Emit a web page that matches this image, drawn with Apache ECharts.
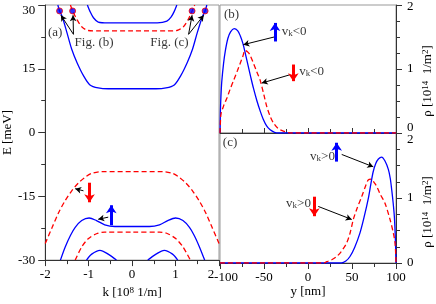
<!DOCTYPE html>
<html><head><meta charset="utf-8">
<script src="https://cdn.jsdelivr.net/npm/echarts@6/dist/echarts.min.js"></script>
<style>html,body{margin:0;padding:0;background:#fff}#c{width:436px;height:304px}</style>
</head><body><div id="c"></div>
<script>
const FONT = "'Liberation Serif','Times New Roman',serif";
const BLUE = '#0000ff', RED = '#ff0000';

// ---- Panel (a): E(k) bands ----
const elecOuterBlue = [[-1.71,30],[-1.67,28.6],[-1.61,27.3],[-1.5,23.5],[-1.39,19.6],[-1.27,16.5],[-1.12,13.4],[-0.97,11.2],[-0.78,10.5],[-0.55,10.3],[0,10.3],[0.55,10.3],[0.78,10.5],[0.97,11.2],[1.12,13.4],[1.27,16.5],[1.39,19.6],[1.5,23.5],[1.62,27.3],[1.68,28.6],[1.72,30]];
const elecRedDash = [[-1.42,30],[-1.37,28.6],[-1.27,26.6],[-1.16,24.9],[-1.01,24.0],[-0.78,23.9],[0,23.9],[0.8,23.9],[1.03,24.0],[1.18,24.9],[1.29,26.6],[1.38,28.6],[1.44,30]];
const elecInnerBlue = [[-1.03,30],[-0.97,28.5],[-0.89,27.0],[-0.78,26.0],[-0.55,25.8],[0,25.8],[0.58,25.8],[0.8,26.2],[0.9,27.2],[0.97,28.5],[1.03,30]];
const holeRedDash1 = [[-2,-26.1],[-1.84,-22.3],[-1.69,-18.8],[-1.54,-16.0],[-1.39,-13.7],[-1.23,-11.8],[-1.08,-10.5],[-0.93,-9.6],[-0.7,-9.2],[0,-9.2],[0.7,-9.2],[0.93,-9.6],[1.08,-10.5],[1.23,-11.8],[1.39,-13.7],[1.54,-16.0],[1.69,-18.8],[1.84,-22.3],[2,-26.1]];
const holeBlue1 = [[-1.65,-30],[-1.54,-26.9],[-1.42,-24.2],[-1.31,-22.3],[-1.16,-20.7],[-0.99,-20.1],[-0.82,-20.7],[-0.63,-21.7],[-0.4,-22.1],[0,-22.1],[0.4,-22.1],[0.63,-21.7],[0.82,-20.7],[1.0,-20.1],[1.17,-20.7],[1.32,-22.3],[1.43,-24.2],[1.55,-26.9],[1.67,-30]];
const holeRedDash2 = [[-1.31,-30],[-1.16,-26.9],[-1.01,-25.0],[-0.82,-23.8],[-0.63,-23.4],[0,-23.4],[0.63,-23.4],[0.82,-23.8],[1.01,-25.0],[1.17,-26.9],[1.34,-30]];
const holeBlue2Left = [[-1.05,-30],[-0.93,-28.6],[-0.74,-27.7],[-0.55,-28.6],[-0.36,-30]];
const holeBlue2Right = [[0.36,-30],[0.55,-28.6],[0.74,-27.7],[0.93,-28.6],[1.05,-30]];
const bandDots = [[-1.67,28.6],[-1.37,28.6],[1.38,28.6],[1.68,28.6]];

// ---- Panel (b): density, v_k<0 ----
const rhoBBlue = [[-100,0],[-99.5,0.35],[-99,0.55],[-98,0.8],[-96,1.08],[-94,1.28],[-91,1.48],[-88,1.58],[-84,1.63],[-80,1.6],[-77,1.52],[-74,1.4],[-71,1.23],[-68,1.05],[-65,0.87],[-62,0.7],[-58,0.5],[-54,0.33],[-51,0.22],[-47,0.11],[-43,0.05],[-38,0.01],[-34,0],[0,0],[100,0]];
const rhoBRed = [[-100,0],[-99.6,0.15],[-98.8,0.3],[-96,0.42],[-92,0.55],[-88.6,0.68],[-84,0.84],[-80,0.98],[-77,1.09],[-74,1.2],[-71.5,1.29],[-68,1.26],[-66,1.22],[-62,1.09],[-58,0.95],[-54.5,0.83],[-50,0.59],[-47,0.42],[-43,0.26],[-39.4,0.16],[-34,0.07],[-28,0.03],[-20,0],[0,0],[100,0]];

// ---- Panel (c): density, v_k>0 ----
const rhoCBlue = [[-100,0],[0,0],[38,0],[43,0.03],[47.7,0.1],[53,0.24],[59,0.46],[64,0.72],[68.5,0.99],[71.5,1.22],[74,1.4],[77,1.53],[80,1.6],[83.7,1.63],[87.5,1.57],[91.3,1.44],[93.5,1.3],[95.1,1.13],[96.8,0.92],[98.1,0.72],[99.2,0.4],[100,0]];
const rhoCRed = [[-100,0],[0,0],[18,0],[21.2,0.02],[27,0.05],[32.6,0.1],[38,0.18],[44,0.31],[48,0.47],[51.5,0.67],[56,0.85],[61,1.02],[65,1.17],[68.5,1.28],[71.6,1.29],[75,1.24],[78,1.18],[82,1.06],[87.5,0.92],[93.2,0.67],[97,0.46],[98.9,0.31],[99.6,0.15],[100,0]];

// ---- annotations (data coordinates) ----
const textsA = [[-1.77,23.6,'(a)'],[-0.875,21.2,'Fig. (b)'],[0.86,21.2,'Fig. (c)']];
const textsB = [[-86.9,1.85,'(b)'],[-15.7,1.59,'v{sub|k}<0'],[4.2,0.96,'v{sub|k}<0']];
const textsC = [[-88.6,1.85,'(c)'],[16.5,1.64,'v{sub|k}>0'],[-10.8,0.92,'v{sub|k}>0']];
const blackArrowsA = [[[-1.35,23.1],[-1.64,27.6]],[[-1.35,23.1],[-1.36,27.6]],[[1.30,23.1],[1.38,27.6]],[[1.30,23.1],[1.65,27.6]],[[-1.12,-13.7],[-1.31,-13.2]],[[-0.55,-19.9],[-0.78,-20.4]]];
const redArrowsA = [[[-0.98,-11.8],[-0.98,-16.4]]];
const blueArrowsA = [[[-0.48,-21.8],[-0.48,-17.1]]];
const blackArrowsB = [[[-35.6,1.51],[-73.5,1.38]],[[-20.5,0.91],[-52.6,0.78]]];
const blueArrowsB = [[[-37.5,1.43],[-37.5,1.72]]];
const redArrowsB = [[[-16.7,1.07],[-16.7,0.81]]];
const blackArrowsC = [[[38.3,1.67],[74.2,1.48]],[[11.7,0.87],[49.7,0.67]]];
const blueArrowsC = [[[32.6,1.56],[32.6,1.85]]];
const redArrowsC = [[[7.2,1.02],[7.2,0.72]]];

const rich = {
  t: {fontFamily: FONT, fontSize: 13, lineHeight: 13, verticalAlign: 'bottom', color: '#000'},
  sup: {fontFamily: FONT, fontSize: 9, lineHeight: 9, verticalAlign: 'top', color: '#000'},
  sub: {fontFamily: FONT, fontSize: 9, lineHeight: 9, verticalAlign: 'bottom', color: '#000'},
  s: {fontFamily: FONT, fontSize: 13, lineHeight: 13, verticalAlign: 'top', color: '#000'},
  dn: {fontFamily: FONT, fontSize: 13, padding: [11,0,0,0], color: '#000'},
  dn7: {fontFamily: FONT, fontSize: 13, padding: [14,0,0,0], color: '#000'},
  dn2: {fontFamily: FONT, fontSize: 13, padding: [3,0,0,0], color: '#000'},
  up: {fontFamily: FONT, fontSize: 13, padding: [0,0,11,0], color: '#000'},
  lf: {fontFamily: FONT, fontSize: 13, padding: [0,16,0,0], color: '#000'},
  rt: {fontFamily: FONT, fontSize: 13, padding: [0,0,0,12], color: '#000'}
};

function lineSeries(data, color, dashed, xi, yi) {
  return {type: 'line', xAxisIndex: xi, yAxisIndex: yi, data: data, showSymbol: false, symbol: 'none',
    smooth: 0.3, silent: true, z: 3,
    lineStyle: {color: color, width: 1.3, type: dashed ? [5, 3] : 'solid'}};
}
function arrowSeries(list, color, width, size, xi, yi) {
  return {type: 'line', xAxisIndex: xi, yAxisIndex: yi, data: [], silent: true, z: 5,
    markLine: {silent: true, animation: false, symbol: ['none', 'arrow'], symbolSize: size, precision: 4,
      label: {show: false}, emphasis: {disabled: true},
      lineStyle: {color: color, width: width, type: 'solid'},
      data: list.map(p => [{coord: p[0]}, {coord: p[1]}])}};
}
function textSeries(list, xi, yi) {
  return {type: 'scatter', xAxisIndex: xi, yAxisIndex: yi, symbolSize: 0, silent: true, z: 6,
    data: list.map(t => ({value: [t[0], t[1]], label: {formatter: '{s|' + t[2].replace('{sub|k}', '}{sub|k}{s|') + '}'}})),
    label: {show: true, position: 'inside', rich: rich}};
}

const axisCol = '#333', frameCol = '#999';
const baseLabel = {fontFamily: FONT, fontSize: 13, color: '#000', rich: rich};

const option = {
  animation: false,
  backgroundColor: '#fff',
  grid: [
    {left: 43, top: 5, width: 176, height: 258, show: true, borderColor: frameCol, borderWidth: 1},
    {left: 220, top: 5, width: 176, height: 128, show: true, borderColor: frameCol, borderWidth: 1},
    {left: 220, top: 133, width: 176, height: 130, show: true, borderColor: frameCol, borderWidth: 1}
  ],
  xAxis: [
    {gridIndex: 0, type: 'value', min: -2, max: 2, interval: 1,
      axisLine: {onZero: false, lineStyle: {color: axisCol}},
      axisTick: {length: 6, lineStyle: {color: axisCol}},
      minorTick: {show: true, splitNumber: 2, length: 4, lineStyle: {color: axisCol}},
      splitLine: {show: false},
      axisLabel: Object.assign({}, baseLabel, {margin: 8, formatter: v => v === 2 ? '{lf|2}' : String(v)}),
      name: '{t|k [10}{sup|8}{t| 1/m]}', nameLocation: 'middle', nameGap: 21,
      nameTextStyle: {rich: rich}},
    {gridIndex: 1, type: 'value', min: -100, max: 100, interval: 50,
      axisLine: {onZero: false, lineStyle: {color: axisCol}},
      axisTick: {inside: true, length: 5, lineStyle: {color: axisCol}},
      minorTick: {show: true, splitNumber: 2, length: 4, lineStyle: {color: axisCol}},
      splitLine: {show: false}, axisLabel: {show: false}},
    {gridIndex: 2, type: 'value', min: -100, max: 100, interval: 50,
      axisLine: {onZero: false, lineStyle: {color: axisCol}},
      axisTick: {length: 6, lineStyle: {color: axisCol}},
      minorTick: {show: true, splitNumber: 2, length: 4, lineStyle: {color: axisCol}},
      splitLine: {show: false},
      axisLabel: Object.assign({}, baseLabel, {margin: 8, formatter: v => v === -100 ? '{rt|-100}' : String(v)}),
      name: '{t|y [nm]}', nameLocation: 'middle', nameGap: 20, nameTextStyle: {rich: rich}}
  ],
  yAxis: [
    {gridIndex: 0, type: 'value', min: -30, max: 30, interval: 15,
      axisLine: {onZero: false, lineStyle: {color: axisCol}},
      axisTick: {length: 7, lineStyle: {color: axisCol}},
      minorTick: {show: true, splitNumber: 2, length: 4, lineStyle: {color: axisCol}},
      splitLine: {show: false},
      axisLabel: Object.assign({}, baseLabel, {margin: 10, formatter: v => v === 30 ? '{dn|30}' : String(v)}),
      name: '{t|E [meV]}', nameLocation: 'middle', nameRotate: 90, nameGap: 28, nameTextStyle: {rich: rich}},
    {gridIndex: 1, type: 'value', position: 'right', min: 0, max: 2, interval: 1,
      axisLine: {onZero: false, lineStyle: {color: axisCol}},
      axisTick: {length: 6, lineStyle: {color: axisCol}},
      minorTick: {show: true, splitNumber: 4, length: 4, lineStyle: {color: axisCol}},
      splitLine: {show: false},
      axisLabel: Object.assign({}, baseLabel, {margin: 11, formatter: v => v === 2 ? '{dn2|2}' : (v === 0 ? '{up|0}' : String(v))}),
      name: '{t|ρ [10}{sup|14}{t|  1/m}{sup|2}{t|]}', nameLocation: 'middle', nameRotate: 90, nameGap: 25,
      nameTextStyle: {rich: rich, padding: [0, 24, 0, 0]}},
    {gridIndex: 2, type: 'value', position: 'right', min: 0, max: 2, interval: 1,
      axisLine: {onZero: false, lineStyle: {color: axisCol}},
      axisTick: {length: 6, lineStyle: {color: axisCol}},
      minorTick: {show: true, splitNumber: 4, length: 4, lineStyle: {color: axisCol}},
      splitLine: {show: false},
      axisLabel: Object.assign({}, baseLabel, {margin: 11, formatter: v => v === 2 ? '{dn7|2}' : String(v)}),
      name: '{t|ρ [10}{sup|14}{t|  1/m}{sup|2}{t|]}', nameLocation: 'middle', nameRotate: 90, nameGap: 25,
      nameTextStyle: {rich: rich, padding: [0, 28, 0, 0]}}
  ],
  series: [
    lineSeries(elecOuterBlue, BLUE, false, 0, 0),
    lineSeries(elecRedDash, RED, true, 0, 0),
    lineSeries(elecInnerBlue, BLUE, false, 0, 0),
    lineSeries(holeRedDash1, RED, true, 0, 0),
    lineSeries(holeBlue1, BLUE, false, 0, 0),
    lineSeries(holeRedDash2, RED, true, 0, 0),
    lineSeries(holeBlue2Left, BLUE, false, 0, 0),
    lineSeries(holeBlue2Right, BLUE, false, 0, 0),
    {type: 'scatter', xAxisIndex: 0, yAxisIndex: 0, data: bandDots, symbol: 'circle', symbolSize: 6, silent: true, z: 7,
      itemStyle: {color: BLUE, borderColor: RED, borderWidth: 1}},
    lineSeries(rhoBBlue, BLUE, false, 1, 1),
    lineSeries(rhoBRed, RED, true, 1, 1),
    lineSeries(rhoCBlue, BLUE, false, 2, 2),
    lineSeries(rhoCRed, RED, true, 2, 2),
    arrowSeries(blackArrowsA, '#000', 1, [5, 6], 0, 0),
    arrowSeries(redArrowsA, RED, 3, [8, 8], 0, 0),
    arrowSeries(blueArrowsA, BLUE, 3, [8, 8], 0, 0),
    arrowSeries(blackArrowsB, '#000', 1, [5, 6], 1, 1),
    arrowSeries(blueArrowsB, BLUE, 3, [8, 8], 1, 1),
    arrowSeries(redArrowsB, RED, 3, [8, 8], 1, 1),
    arrowSeries(blackArrowsC, '#000', 1, [5, 6], 2, 2),
    arrowSeries(blueArrowsC, BLUE, 3, [8, 8], 2, 2),
    arrowSeries(redArrowsC, RED, 3, [8, 8], 2, 2),
    textSeries(textsA, 0, 0),
    textSeries(textsB, 1, 1),
    textSeries(textsC, 2, 2)
  ]
};
const chart = echarts.init(document.getElementById('c'), null, {renderer: 'canvas'});
chart.setOption(option);
</script></body></html>
